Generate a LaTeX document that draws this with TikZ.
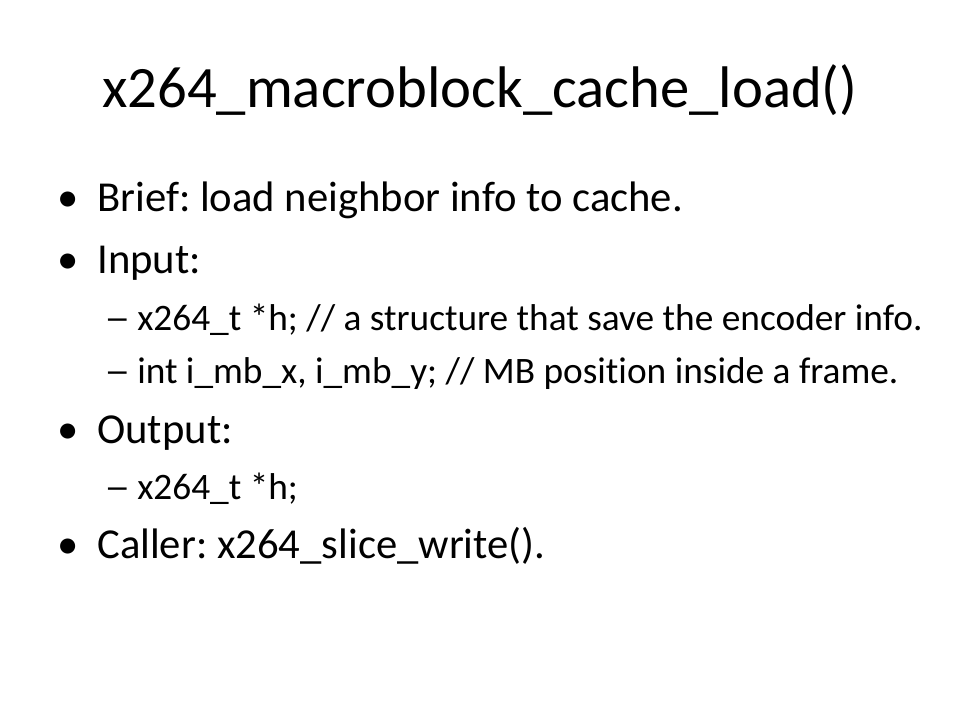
\documentclass[tikz,border=0pt]{standalone}
\usepackage{fontspec}
\setmainfont[Ligatures=NoCommon]{Carlito}
\frenchspacing
\begin{document}
\begin{tikzpicture}[x=0.75pt,y=-0.75pt,
  txt/.style={anchor=base west,inner sep=0pt,text=black},
  ttl/.style={txt,font=\fontsize{44}{50}\selectfont\frenchspacing},
  lone/.style={txt,font=\fontsize{32}{36}\selectfont\frenchspacing},
  ltwo/.style={txt,font=\fontsize{28}{32}\selectfont\frenchspacing}]
\useasboundingbox[fill=white] (0,0) rectangle (960,720);
\node[ttl] (title) at (102,108) {x264\_macroblock\_cache\_load()};
% level 1
\node[lone] (b1) at (57,212) {•};
\node[lone] (t1) at (97,212) {Brief: load neighbor info to cache.};
\node[lone] (b2) at (57,274) {•};
\node[lone] (t2) at (97,274) {Input:};
\node[ltwo] (d1) at (104,330) {\scalebox{1.4}[1]{–}};
\node[ltwo] (s1) at (137,330) {x264\_t *h; // a structure that save the encoder info.};
\node[ltwo] (d2) at (104,383) {\scalebox{1.4}[1]{–}};
\node[ltwo] (s2) at (137,383) {int i\_mb\_x, i\_mb\_y; // MB position inside a frame.};
\node[lone] (b3) at (57,443) {•};
\node[lone] (t3) at (97,443) {Output:};
\node[ltwo] (d3) at (104,499) {\scalebox{1.4}[1]{–}};
\node[ltwo] (s3) at (137,499) {x264\_t *h;};
\node[lone] (b4) at (57,558) {•};
\node[lone] (t4) at (97,558) {Caller: x264\_slice\_write().};
\end{tikzpicture}
\end{document}
